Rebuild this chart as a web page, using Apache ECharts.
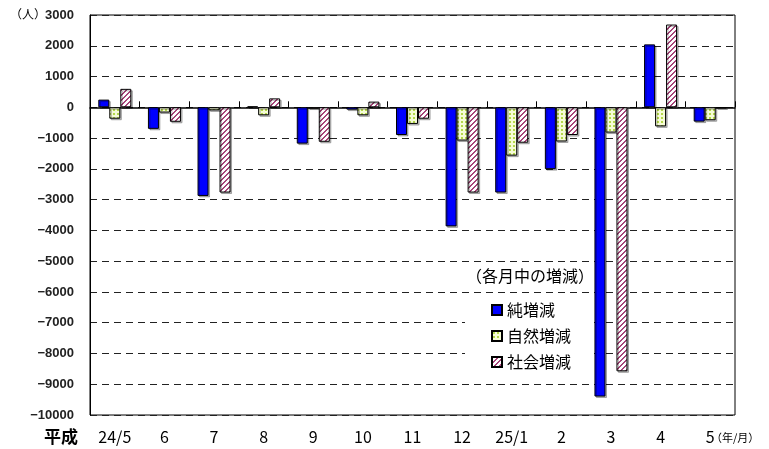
<!DOCTYPE html>
<html><head><meta charset="utf-8">
<script src="https://cdn.jsdelivr.net/npm/echarts@6/dist/echarts.min.js"></script>
<style>html,body{margin:0;padding:0;background:#fff}#c{width:769px;height:449px}</style>
</head><body><div id="c"></div>
<script>
var categories = ['24/5','6','7','8','9','10','11','12','25/1','2','3','4','5'];
var netChange = [250,-700,-2880,30,-1180,-75,-900,-3870,-2770,-2010,-9400,2045,-465];
var naturalChange = [-370,-170,-100,-260,-40,-260,-540,-1080,-1570,-1110,-820,-620,-420];
var socialChange = [600,-470,-2770,290,-1120,185,-370,-2770,-1150,-900,-8580,2690,-30];
var seriesNames = ['純増減','自然増減','社会増減'];

function makePink(){
  var s=5, c=document.createElement('canvas'); c.width=s; c.height=s;
  var g=c.getContext('2d'); g.fillStyle='#ffffff'; g.fillRect(0,0,s,s);
  g.fillStyle='#a8457a';
  for(var x=0;x<s;x++)for(var y=0;y<s;y++){ if(((x+y)%s)<2) g.fillRect(x,y,1,1); }
  return c;
}
function makeGreen(){
  var s=4, c=document.createElement('canvas'); c.width=s; c.height=s;
  var g=c.getContext('2d'); g.fillStyle='#f6fcd6'; g.fillRect(0,0,s,s);
  g.fillStyle='#b4d84a'; g.fillRect(1,1,2,2);
  return c;
}
var FONT='"Noto Sans CJK JP", sans-serif';
var chart = echarts.init(document.getElementById('c'), null, {renderer:'canvas'});
var barStyle = function(color){
  return {color: color, borderColor:'#000', borderWidth:1,
    shadowColor:'rgba(0,0,0,0.28)', shadowOffsetX:1.5, shadowOffsetY:1.5, shadowBlur:0};
};
chart.setOption({
  animation:false,
  backgroundColor:'#fff',
  grid:{left:90,right:34,top:15,bottom:34,show:true,borderColor:'#000',borderWidth:1,backgroundColor:'transparent'},
  legend:{
    orient:'vertical', left:465, top:297, z:1,
    padding:[5,22,8,26], backgroundColor:'#fff',
    itemWidth:10, itemHeight:10, itemGap:10, icon:'rect',
    textStyle:{fontFamily:FONT, fontSize:16, color:'#000', lineHeight:16},
    data:seriesNames
  },
  graphic:[
    {type:'text', left:10, top:8, style:{text:'（人）', font:'12px '+FONT, fill:'#000'}},
    {type:'text', left:44, top:428, style:{text:'平成', font:'bold 17px '+FONT, fill:'#000'}},
    {type:'text', left:711, top:432, style:{text:'（年/月）', font:'11px '+FONT, fill:'#000'}},
    {type:'text', left:466, top:268, z:5, style:{text:'（各月中の増減）', font:'16px '+FONT, fill:'#000'}}
  ],
  xAxis:[
    {type:'category', data:categories, position:'bottom',
     axisLine:{onZero:true, lineStyle:{color:'#000', width:1.5}},
     axisTick:{show:true, inside:true, length:6, lineStyle:{color:'#000'}},
     axisLabel:{show:false}, splitLine:{show:false}},
    {type:'category', data:categories, position:'bottom',
     axisLine:{show:false, onZero:false}, axisTick:{show:false},
     axisLabel:{show:true, margin:14, fontFamily:FONT, fontSize:16, color:'#000'}}
  ],
  yAxis:{
    type:'value', min:-10000, max:3000, interval:1000,
    axisLine:{show:true, lineStyle:{color:'#000'}}, axisTick:{show:false},
    axisLabel:{margin:16, fontFamily:'"Liberation Sans", Arial, sans-serif', fontSize:13, fontWeight:'bold', color:'#222',
      formatter:function(v){return String(v).replace('-', '\u2212');}},
    splitLine:{show:true, lineStyle:{color:'#222', type:[7,5], width:1}}
  },
  series:[
    {name:seriesNames[0], type:'bar', xAxisIndex:0, data:netChange, barWidth:11, barGap:'0%', itemStyle:barStyle('#0000ff')},
    {name:seriesNames[1], type:'bar', xAxisIndex:0, data:naturalChange, barWidth:11, barGap:'0%', itemStyle:barStyle({image:makeGreen(), repeat:'repeat'})},
    {name:seriesNames[2], type:'bar', xAxisIndex:0, data:socialChange, barWidth:11, barGap:'0%', itemStyle:barStyle({image:makePink(), repeat:'repeat'})}
  ]
});
</script></body></html>
